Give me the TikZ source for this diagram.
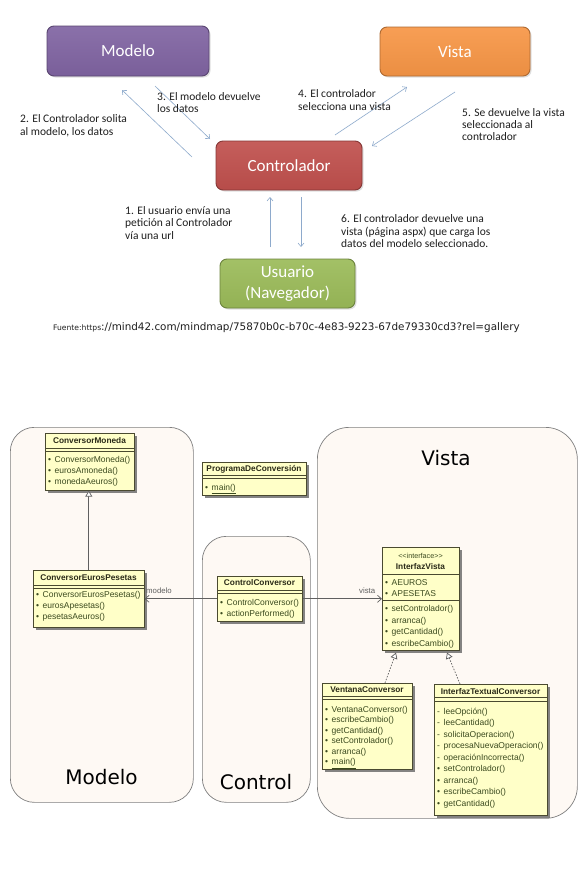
\documentclass[tikz,border=0pt]{standalone}
\usepackage{fontspec}
\setmainfont{Carlito}
\newfontfamily\dvsans{DejaVu Sans}
\newfontfamily\lisans{Liberation Sans}
\usetikzlibrary{arrows.meta,shadows,calc}
\definecolor{mvcpurple}{HTML}{8064A2}
\definecolor{mvcorange}{HTML}{F79646}
\definecolor{mvcred}{HTML}{C0504D}
\definecolor{mvcgreen}{HTML}{9BBB59}
\definecolor{arrowc}{HTML}{8EAACC}
\definecolor{pkgfill}{HTML}{FEF9F4}
\definecolor{pkgline}{HTML}{7F7F7F}
\definecolor{clsfill}{HTML}{FFFFC8}
\definecolor{clsline}{HTML}{4A4A30}
\definecolor{methc}{HTML}{3B4A1E}
\definecolor{titc}{HTML}{2A2A18}
\definecolor{assocc}{HTML}{606060}
\definecolor{txtc}{HTML}{1F1F1F}
\newcommand\umlpub{\makebox[6.5pt][l]{•}}
\newcommand\umlpriv{\makebox[6.5pt][l]{-}}
\begin{document}
\begin{tikzpicture}[x=1pt,y=-1pt,
  mvcbox/.style={rounded corners=7pt, draw=#1!70!black, line width=0.9pt,
    top color=#1!92!white, bottom color=#1!95!black, text=white, align=center,
    font=\fontsize{17}{21}\selectfont,
    drop shadow={shadow xshift=1.5pt, shadow yshift=-1.5pt, opacity=0.25}},
  mvcarrow/.style={draw=arrowc, line width=0.6pt, -{Straight Barb[length=3.5pt,width=6pt]}},
  mvclabel/.style={font=\fontsize{11.5}{12.4}\selectfont, text=txtc, align=left, anchor=north west, inner sep=0},
  pkg/.style={draw=pkgline, fill=pkgfill, line width=0.7pt, rounded corners=24pt, anchor=north west, inner sep=0},
  pkglabel/.style={font=\dvsans\fontsize{20}{24}\selectfont, text=black, inner sep=0},
  cls/.style={draw=clsline, fill=clsfill, line width=0.6pt, anchor=north west, inner sep=0,
    drop shadow={shadow xshift=2.5pt, shadow yshift=-2.5pt, fill=black!60, opacity=0.8}},
  clsdiv/.style={draw=clsline, line width=0.6pt},
  ctitle/.style={font=\lisans\bfseries\fontsize{8.3}{9}\selectfont, text=titc, inner sep=0},
  meth/.style={font=\lisans\fontsize{8.5}{#1}\selectfont, align=left, anchor=north west, inner sep=0, text=methc},
  assoc/.style={draw=assocc, line width=0.7pt, -{Straight Barb[length=4pt,width=7pt]}},
  gen/.style={draw=assocc, line width=0.7pt, -{Triangle[open,length=6pt,width=7pt,fill=white]}},
  real/.style={draw=assocc, line width=0.7pt, dash pattern=on 1.5pt off 1.5pt, -{Triangle[open,length=6pt,width=7pt,fill=white]}},
  asslabel/.style={font=\lisans\fontsize{7.8}{9}\selectfont, text=assocc, inner sep=0, anchor=south west}
]
\useasboundingbox (0,0) rectangle (587,878);
\fill[white] (0,0) rectangle (587,878);

% ---------------- top MVC diagram ----------------
\node[mvcbox=mvcpurple, minimum width=162pt, minimum height=50pt] (modelo) at (128,51) {Modelo};
\node[mvcbox=mvcorange, minimum width=150pt, minimum height=49pt] (vista) at (455,51.5) {Vista};
\node[mvcbox=mvcred, minimum width=146pt, minimum height=49pt] (contr) at (289,165.5) {Controlador};
\node[mvcbox=mvcgreen, minimum width=135pt, minimum height=49pt] (usuario) at (287.5,283.5) {\raisebox{-2pt}{Usuario}\\\raisebox{-2pt}{(Navegador)}};

\coordinate (a2s) at (192,157); \coordinate (a2e) at (122,90);
\coordinate (a3s) at (155,86);  \coordinate (a3e) at (210,139);
\coordinate (a4s) at (335,135); \coordinate (a4e) at (407,87);
\coordinate (a5s) at (455,92);  \coordinate (a5e) at (372,146);
\coordinate (a1s) at (270,247); \coordinate (a1e) at (270,197);
\coordinate (a6s) at (301,197); \coordinate (a6e) at (301,247);
\draw[mvcarrow] (a2s) -- (a2e);
\draw[mvcarrow] (a3s) -- (a3e);
\draw[mvcarrow] (a4s) -- (a4e);
\draw[mvcarrow] (a5s) -- (a5e);
\draw[mvcarrow] (a1s) -- (a1e);
\draw[mvcarrow] (a6s) -- (a6e);

\node[mvclabel] (l2) at (20,114.7) {2. El Controlador solita\\al modelo, los datos};
\node[mvclabel] (l3) at (157,92) {3. El modelo devuelve\\los datos};
\node[mvclabel] (l4) at (298,89.7) {4. El controlador\\selecciona una vista};
\node[mvclabel] (l5) at (462,108) {5. Se devuelve la vista\\seleccionada al\\controlador};
\node[mvclabel] (l1) at (125,206.4) {1. El usuario envía una\\petición al Controlador\\vía una url};
\node[mvclabel] (l6) at (341,214.7) {6. El controlador devuelve una\\vista (página aspx) que carga los\\datos del modelo seleccionado.};

\node[anchor=base west, inner sep=0, text=txtc] (src) at (53,330)
  {{\dvsans\fontsize{7.6}{8}\selectfont Fuente:https}{\dvsans\fontsize{10.4}{11}\selectfont ://mind42.com/mindmap/75870b0c-b70c-4e83-9223-67de79330cd3?rel=gallery}};

% ---------------- UML packages ----------------
\node[pkg, minimum width=183pt, minimum height=375pt] (pmod) at (10,427) {};
\node[pkg, minimum width=108pt, minimum height=266pt] (pctl) at (202,536) {};
\node[pkg, minimum width=260pt, minimum height=391pt, rounded corners=32pt] (pvis) at (317,427) {};
\node[pkglabel] (lmod) at (101.5,777) {Modelo};
\node[pkglabel] (lctl) at (256,782) {Control};
\node[pkglabel] (lvis) at (446,458) {Vista};

% ---------------- classes ----------------
% ConversorMoneda
\node[cls, minimum width=89pt, minimum height=57pt] (cm) at (45,433) {};
\draw[clsdiv] (45,448) -- (134,448);
\draw[clsdiv] (45,451.5) -- (134,451.5);
\node[ctitle] (cmt) at (89.5,441) {ConversorMoneda};
\node[meth={10.7}] (cmm) at (48,456.5) {\umlpub ConversorMoneda()\\\umlpub eurosAmoneda()\\\umlpub monedaAeuros()};

% ConversorEurosPesetas
\node[cls, minimum width=111pt, minimum height=57pt] (cep) at (33,570) {};
\draw[clsdiv] (33,585) -- (144,585);
\draw[clsdiv] (33,588.5) -- (144,588.5);
\node[ctitle] (cept) at (88.5,577.5) {ConversorEurosPesetas};
\node[meth={11.3}] (cepm) at (36,590.7) {\umlpub ConversorEurosPesetas()\\\umlpub eurosApesetas()\\\umlpub pesetasAeuros()};

% ProgramaDeConversion
\node[cls, minimum width=104pt, minimum height=33pt] (pdc) at (202,462) {};
\draw[clsdiv] (202,475) -- (306,475);
\draw[clsdiv] (202,478.5) -- (306,478.5);
\node[ctitle] (pdct) at (254,469) {ProgramaDeConversión};
\node[meth={11}] (pdcm) at (205,483.7) {\umlpub \underline{main()}};

% ControlConversor
\node[cls, minimum width=85pt, minimum height=45pt] (cc) at (217,576) {};
\draw[clsdiv] (217,590) -- (302,590);
\draw[clsdiv] (217,593.5) -- (302,593.5);
\node[ctitle] (cct) at (259.5,583) {ControlConversor};
\node[meth={11}] (ccm) at (220,598.7) {\umlpub ControlConversor()\\\umlpub actionPerformed()};

% InterfazVista
\node[cls, minimum width=77pt, minimum height=103pt] (iv) at (382,547) {};
\node[inner sep=0, font=\lisans\fontsize{7.2}{8}\selectfont, text=methc] (ivs) at (420.5,555.5) {<<interface>>};
\node[ctitle] (ivt) at (420.5,567) {InterfazVista};
\draw[clsdiv] (382,574.5) -- (459,574.5);
\node[meth={11}] (iva) at (385,579.7) {\umlpub AEUROS\\\umlpub APESETAS};
\draw[clsdiv] (382,600) -- (459,600);
\node[meth={11.5}] (ivm) at (385,605.2) {\umlpub setControlador()\\\umlpub arranca()\\\umlpub getCantidad()\\\umlpub escribeCambio()};

% VentanaConversor
\node[cls, minimum width=90pt, minimum height=86pt] (vc) at (322,683) {};
\draw[clsdiv] (322,696) -- (412,696);
\draw[clsdiv] (322,699.5) -- (412,699.5);
\node[ctitle] (vct) at (367,690) {VentanaConversor};
\node[meth={10.5}] (vcm) at (325,705.7) {\umlpub VentanaConversor()\\\umlpub escribeCambio()\\\umlpub getCantidad()\\\umlpub setControlador()\\\umlpub arranca()\\\umlpub \underline{main()}};

% InterfazTextualConversor
\node[cls, minimum width=113pt, minimum height=131pt] (itc) at (434,684) {};
\draw[clsdiv] (434,697) -- (547,697);
\draw[clsdiv] (434,701) -- (547,701);
\node[ctitle] (itct) at (490.5,691.5) {InterfazTextualConversor};
\node[meth={11.5}] (itcm) at (437,707.7) {\umlpriv leeOpción()\\\umlpriv leeCantidad()\\\umlpriv solicitaOperacion()\\\umlpriv procesaNuevaOperacion()\\\umlpriv operaciónIncorrecta()\\\umlpub setControlador()\\\umlpub arranca()\\\umlpub escribeCambio()\\\umlpub getCantidad()};

% ---------------- relations ----------------
\draw[assoc] (cc.west) -- (cep.east);
\draw[assoc] (cc.east) -- (iv.west);
\node[asslabel] (lblmod) at (146,594) {modelo};
\node[asslabel] (lblvis) at (359,594) {vista};
\draw[gen] (cep.north) -- (cep.north |- cm.south);
\draw[real] ($(vc.north west)+(63,0)$) -- ($(iv.south west)+(14,2)$);
\draw[real] ($(itc.north west)+(26,0)$) -- ($(iv.south west)+(65,2)$);
\end{tikzpicture}
\end{document}
